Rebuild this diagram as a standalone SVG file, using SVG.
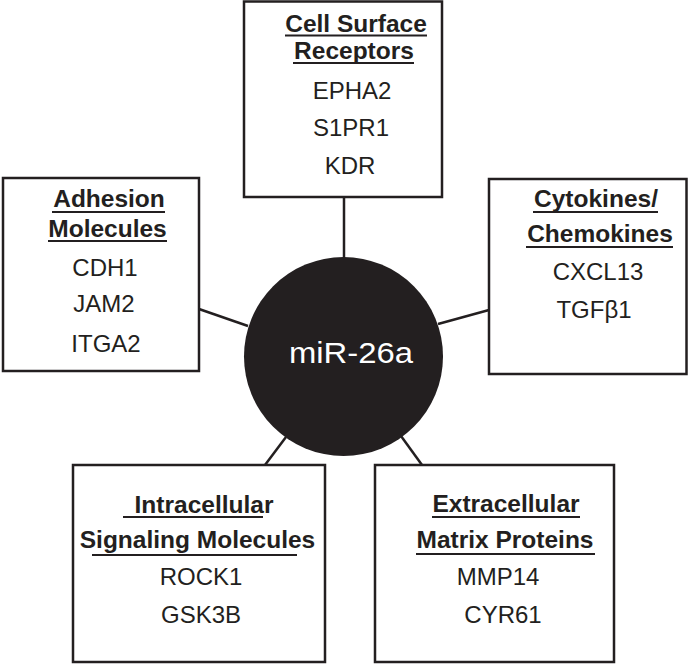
<svg xmlns="http://www.w3.org/2000/svg" width="688" height="664" viewBox="0 0 688 664">
<style>
.box{fill:#fff;stroke:#231f20;stroke-width:2.5}
.conn{stroke:#231f20;stroke-width:2.5;fill:none}
.hd{font-family:"Liberation Sans",Arial,sans-serif;font-weight:bold;font-size:24.5px;fill:#231f20;text-anchor:middle}
.gn{font-family:"Liberation Sans",Arial,sans-serif;font-size:24px;fill:#231f20;text-anchor:middle}
.ul{stroke:#231f20;stroke-width:2}
</style>
<rect width="688" height="664" fill="#fff"/>
<g id="connectors">
<line class="conn" x1="344" y1="197" x2="344" y2="258"/>
<line class="conn" x1="199" y1="309" x2="248" y2="326"/>
<line class="conn" x1="489" y1="310" x2="438" y2="324"/>
<line class="conn" x1="265" y1="465" x2="286" y2="437"/>
<line class="conn" x1="422" y1="465" x2="401" y2="436"/>
</g>
<g id="center">
<circle cx="343.5" cy="356.5" r="99.5" fill="#231f20"/>
<text x="351" y="363" font-family="'Liberation Sans',Arial,sans-serif" font-size="30" fill="#fff" text-anchor="middle" textLength="124" lengthAdjust="spacingAndGlyphs">miR-26a</text>
</g>
<g id="cell-surface-receptors">
<rect class="box" x="244" y="1.5" width="198" height="195.5"/>
<text class="hd" x="356" y="32">Cell Surface</text>
<line class="ul" x1="285" y1="35.5" x2="427" y2="35.5"/>
<text class="hd" x="354" y="59">Receptors</text>
<line class="ul" x1="293" y1="63" x2="414" y2="63"/>
<text class="gn" x="352" y="99">EPHA2</text>
<text class="gn" x="351" y="136">S1PR1</text>
<text class="gn" x="350" y="174">KDR</text>
</g>
<g id="adhesion-molecules">
<rect class="box" x="3" y="178" width="196" height="193"/>
<text class="hd" x="109" y="207">Adhesion</text>
<line class="ul" x1="52" y1="212" x2="165" y2="212"/>
<text class="hd" x="107.5" y="237">Molecules</text>
<line class="ul" x1="48" y1="241" x2="167" y2="241"/>
<text class="gn" x="105" y="276">CDH1</text>
<text class="gn" x="104" y="312">JAM2</text>
<text class="gn" x="106" y="352">ITGA2</text>
</g>
<g id="cytokines-chemokines">
<rect class="box" x="489" y="179" width="197.5" height="195"/>
<text class="hd" x="596" y="207">Cytokines/</text>
<line class="ul" x1="533" y1="212" x2="658" y2="212"/>
<text class="hd" x="600" y="242">Chemokines</text>
<line class="ul" x1="526" y1="247" x2="673" y2="247"/>
<text class="gn" x="598" y="280">CXCL13</text>
<text class="gn" x="594" y="318">TGFβ1</text>
</g>
<g id="intracellular-signaling">
<rect class="box" x="73" y="465" width="252" height="197"/>
<text class="hd" x="204" y="513">Intracellular</text>
<line class="ul" x1="123" y1="517" x2="263" y2="517"/>
<text class="hd" x="197.5" y="548">Signaling Molecules</text>
<line class="ul" x1="92" y1="555" x2="297" y2="555"/>
<text class="gn" x="201" y="585">ROCK1</text>
<text class="gn" x="201" y="623">GSK3B</text>
</g>
<g id="extracellular-matrix">
<rect class="box" x="375" y="465" width="239" height="197"/>
<text class="hd" x="506" y="512">Extracellular</text>
<line class="ul" x1="432" y1="517" x2="580" y2="517"/>
<text class="hd" x="505" y="548">Matrix Proteins</text>
<line class="ul" x1="416" y1="554" x2="595" y2="554"/>
<text class="gn" x="498" y="585">MMP14</text>
<text class="gn" x="503" y="623">CYR61</text>
</g>
</svg>
